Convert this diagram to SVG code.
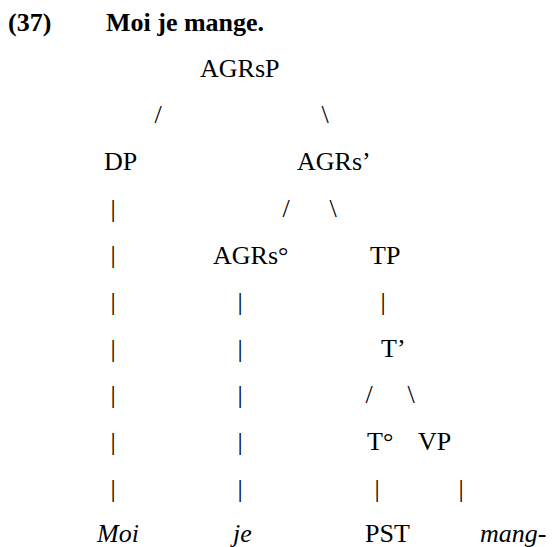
<svg xmlns="http://www.w3.org/2000/svg" width="557" height="547" viewBox="0 0 557 547">
<style>
text{font-family:'Liberation Serif','Times New Roman',Times,'DejaVu Serif',serif;font-size:26px;fill:#000}
.b{font-weight:bold}
.i{font-style:italic}
.c{text-anchor:middle}
</style>
<rect width="557" height="547" fill="#fff"/>
<g font-family="Liberation Serif, Times New Roman, Times, DejaVu Serif, serif" font-size="26">
<g id="title">
<text class="b" x="8" y="31">(37)</text>
<text class="b" x="106" y="31">Moi je mange.</text>
</g>
<g id="AGRsP"><text x="200" y="77">AGRsP</text></g>
<g id="DP"><text x="104" y="170">DP</text></g>
<g id="AGRs-bar"><text x="297" y="170">AGRs’</text></g>
<g id="AGRs-head"><text x="213" y="264">AGRs°</text></g>
<g id="TP"><text x="370" y="264">TP</text></g>
<g id="T-bar"><text x="381" y="357">T’</text></g>
<g id="T-head"><text x="367" y="450">T°</text></g>
<g id="VP"><text x="418" y="450">VP</text></g>
<g id="Moi"><text class="i" x="97" y="542">Moi</text></g>
<g id="je"><text class="i" x="233" y="542">je</text></g>
<g id="PST"><text x="365" y="542">PST</text></g>
<g id="mang"><text class="i" x="480" y="542">mang-</text></g>
<g id="connectors">
<text class="c" x="158" y="123">/</text>
<text class="c" x="325" y="123">\</text>
<text class="c" x="113" y="217">|</text>
<text class="c" x="286" y="217">/</text>
<text class="c" x="333" y="217">\</text>
<text class="c" x="113" y="263">|</text>
<text class="c" x="113" y="310">|</text>
<text class="c" x="240" y="310">|</text>
<text class="c" x="383" y="310">|</text>
<text class="c" x="113" y="357">|</text>
<text class="c" x="240" y="357">|</text>
<text class="c" x="113" y="403">|</text>
<text class="c" x="240" y="403">|</text>
<text class="c" x="369" y="403">/</text>
<text class="c" x="411" y="403">\</text>
<text class="c" x="113" y="450">|</text>
<text class="c" x="240" y="450">|</text>
<text class="c" x="113" y="497">|</text>
<text class="c" x="240" y="497">|</text>
<text class="c" x="377" y="497">|</text>
<text class="c" x="461" y="497">|</text>
</g>
</g>
</svg>
